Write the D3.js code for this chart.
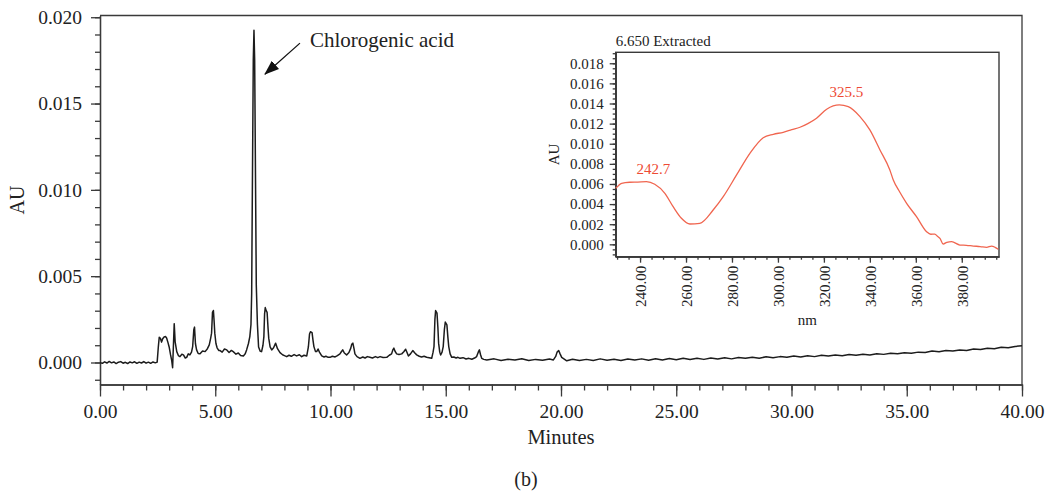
<!DOCTYPE html>
<html>
<head>
<meta charset="utf-8">
<script src="https://cdn.jsdelivr.net/npm/d3@7"></script>
<style>
body { margin: 0; background: #fff; }
svg { display: block; font-family: "Liberation Serif", "Times New Roman", serif; }
</style>
</head>
<body>
<svg id="chart" width="1050" height="497"></svg>
<script>
'use strict'

// chromatogram, [minutes, AU]
const chromatogram = [
	[0.00, 0.00000], [0.10, -0.00005], [0.20, 0.00004], [0.30, -0.00003], [0.40, 0.00006],
	[0.50, -0.00002], [0.60, 0.00003], [0.70, -0.00006], [0.80, 0.00002], [0.90, 0.00005],
	[1.00, -0.00004], [1.10, 0.00001], [1.20, -0.00006], [1.30, 0.00003], [1.40, -0.00002],
	[1.50, 0.00004], [1.60, -0.00005], [1.70, 0.00002], [1.80, -0.00003], [1.90, 0.00005],
	[2.00, -0.00004], [2.10, 0.00002], [2.20, -0.00005], [2.30, 0.00003], [2.40, -0.00002],
	[2.48, 0.00002], [2.53, 0.00090], [2.57, 0.00146], [2.62, 0.00140], [2.67, 0.00118],
	[2.72, 0.00138], [2.78, 0.00148], [2.84, 0.00150], [2.89, 0.00142], [2.95, 0.00115],
	[3.00, 0.00090], [3.06, 0.00045], [3.11, 0.00012], [3.15, -0.00030], [3.18, 0.00080],
	[3.22, 0.00225], [3.26, 0.00120], [3.33, 0.00063], [3.40, 0.00040], [3.47, 0.00034],
	[3.55, 0.00048], [3.62, 0.00044], [3.70, 0.00026], [3.76, 0.00030], [3.83, 0.00050],
	[3.90, 0.00044], [3.97, 0.00060], [4.02, 0.00092], [4.07, 0.00190], [4.10, 0.00205],
	[4.14, 0.00110], [4.19, 0.00073], [4.26, 0.00052], [4.34, 0.00050], [4.45, 0.00066],
	[4.56, 0.00063], [4.66, 0.00080], [4.74, 0.00102], [4.80, 0.00140], [4.84, 0.00170],
	[4.88, 0.00290], [4.92, 0.00301], [4.95, 0.00240], [4.98, 0.00170], [5.03, 0.00110],
	[5.08, 0.00085], [5.15, 0.00070], [5.21, 0.00069], [5.30, 0.00060], [5.40, 0.00078],
	[5.50, 0.00073], [5.60, 0.00058], [5.70, 0.00070], [5.78, 0.00063], [5.90, 0.00048],
	[6.00, 0.00055], [6.10, 0.00040], [6.22, 0.00038], [6.30, 0.00050], [6.36, 0.00073],
	[6.44, 0.00110], [6.50, 0.00150], [6.55, 0.00220], [6.58, 0.00400], [6.61, 0.01000],
	[6.65, 0.01750], [6.68, 0.01925], [6.71, 0.01750], [6.75, 0.01000], [6.78, 0.00450],
	[6.83, 0.00220], [6.88, 0.00090], [6.95, 0.00065], [7.01, 0.00063], [7.07, 0.00100],
	[7.11, 0.00150], [7.14, 0.00280], [7.17, 0.00318], [7.21, 0.00300], [7.25, 0.00290],
	[7.29, 0.00200], [7.32, 0.00141], [7.38, 0.00090], [7.45, 0.00073], [7.53, 0.00085],
	[7.62, 0.00112], [7.70, 0.00080], [7.81, 0.00057], [7.92, 0.00045], [8.00, 0.00040],
	[8.10, 0.00034], [8.20, 0.00042], [8.30, 0.00036], [8.42, 0.00046], [8.53, 0.00038],
	[8.65, 0.00045], [8.75, 0.00034], [8.85, 0.00042], [8.97, 0.00038], [9.04, 0.00090],
	[9.09, 0.00165], [9.13, 0.00178], [9.20, 0.00173], [9.24, 0.00130], [9.28, 0.00092],
	[9.35, 0.00063], [9.40, 0.00063], [9.46, 0.00078], [9.52, 0.00060], [9.62, 0.00038],
	[9.72, 0.00032], [9.80, 0.00036], [9.90, 0.00030], [9.98, 0.00030], [10.08, 0.00036],
	[10.20, 0.00032], [10.30, 0.00040], [10.41, 0.00050], [10.47, 0.00062], [10.53, 0.00073],
	[10.60, 0.00055], [10.70, 0.00044], [10.80, 0.00058], [10.88, 0.00083], [10.92, 0.00105],
	[10.97, 0.00112], [11.02, 0.00080], [11.06, 0.00050], [11.15, 0.00034], [11.28, 0.00024],
	[11.40, 0.00032], [11.50, 0.00026], [11.60, 0.00034], [11.71, 0.00030], [11.82, 0.00026],
	[11.95, 0.00034], [12.05, 0.00028], [12.15, 0.00034], [12.28, 0.00029], [12.44, 0.00030],
	[12.55, 0.00042], [12.65, 0.00050], [12.71, 0.00075], [12.75, 0.00083], [12.80, 0.00065],
	[12.87, 0.00050], [12.97, 0.00046], [13.09, 0.00050], [13.18, 0.00062], [13.26, 0.00077],
	[13.32, 0.00058], [13.38, 0.00038], [13.47, 0.00050], [13.57, 0.00069], [13.65, 0.00056],
	[13.74, 0.00044], [13.85, 0.00036], [13.95, 0.00032], [14.06, 0.00036], [14.17, 0.00030],
	[14.28, 0.00028], [14.39, 0.00024], [14.45, 0.00060], [14.49, 0.00092], [14.53, 0.00250],
	[14.56, 0.00301], [14.62, 0.00286], [14.66, 0.00200], [14.69, 0.00112], [14.74, 0.00060],
	[14.78, 0.00044], [14.84, 0.00060], [14.89, 0.00092], [14.94, 0.00190], [14.98, 0.00234],
	[15.05, 0.00218], [15.09, 0.00150], [15.13, 0.00092], [15.19, 0.00050], [15.26, 0.00030],
	[15.35, 0.00032], [15.45, 0.00026], [15.53, 0.00030], [15.62, 0.00024], [15.75, 0.00028],
	[15.88, 0.00020], [16.00, 0.00024], [16.13, 0.00019], [16.25, 0.00026], [16.34, 0.00034],
	[16.41, 0.00060], [16.46, 0.00073], [16.51, 0.00045], [16.56, 0.00024], [16.65, 0.00018],
	[16.78, 0.00015], [17.10, 0.00021], [17.40, 0.00012], [17.70, 0.00019], [18.00, 0.00014],
	[18.30, 0.00022], [18.60, 0.00011], [18.90, 0.00018], [19.20, 0.00013], [19.50, 0.00020],
	[19.67, 0.00015], [19.77, 0.00035], [19.83, 0.00060], [19.90, 0.00069], [19.96, 0.00050],
	[20.03, 0.00030], [20.25, 0.00010], [20.50, 0.00019], [20.80, 0.00011], [21.10, 0.00018],
	[21.40, 0.00012], [21.70, 0.00021], [22.00, 0.00013], [22.30, 0.00019], [22.60, 0.00012],
	[22.90, 0.00020], [23.20, 0.00014], [23.50, 0.00021], [23.80, 0.00013], [24.10, 0.00022],
	[24.40, 0.00015], [24.70, 0.00023], [25.00, 0.00016], [25.30, 0.00024], [25.60, 0.00017],
	[25.90, 0.00025], [26.20, 0.00018], [26.50, 0.00026], [26.80, 0.00020], [27.10, 0.00028],
	[27.40, 0.00021], [27.70, 0.00029], [28.00, 0.00024], [28.30, 0.00031], [28.60, 0.00025],
	[28.90, 0.00033], [29.20, 0.00028], [29.50, 0.00034], [29.80, 0.00030], [30.10, 0.00037],
	[30.40, 0.00032], [30.70, 0.00039], [31.00, 0.00034], [31.30, 0.00042], [31.60, 0.00037],
	[31.90, 0.00043], [32.20, 0.00039], [32.50, 0.00046], [32.80, 0.00042], [33.10, 0.00048],
	[33.40, 0.00044], [33.70, 0.00051], [34.00, 0.00047], [34.30, 0.00054], [34.60, 0.00050],
	[34.90, 0.00057], [35.20, 0.00054], [35.50, 0.00060], [35.80, 0.00058], [36.10, 0.00066],
	[36.40, 0.00062], [36.70, 0.00069], [37.00, 0.00066], [37.30, 0.00073], [37.60, 0.00070],
	[37.90, 0.00078], [38.20, 0.00075], [38.50, 0.00082], [38.80, 0.00080], [39.10, 0.00088],
	[39.40, 0.00085], [39.70, 0.00093], [40.00, 0.00097]
]

// UV spectrum extracted at 6.650 min, [nm, AU]
const spectrum = [
	[229.4, 0.00557], [232.0, 0.00607], [235.5, 0.00617], [239.0, 0.00619], [242.8, 0.00623],
	[246.4, 0.00597], [250.8, 0.00507], [254.4, 0.00374], [258.0, 0.00259], [261.7, 0.00202],
	[266.0, 0.00209], [271.8, 0.00341], [276.2, 0.00474], [282.0, 0.00690], [287.8, 0.00905],
	[293.6, 0.01060], [298.0, 0.01094], [302.3, 0.01114], [306.0, 0.01140], [309.6, 0.01164],
	[313.0, 0.01200], [316.8, 0.01254], [321.2, 0.01343], [326.7, 0.01386], [330.6, 0.01369],
	[335.7, 0.01270], [340.0, 0.01137], [344.4, 0.00938], [348.7, 0.00739], [350.2, 0.00640],
	[353.0, 0.00520], [356.0, 0.00408], [360.3, 0.00275], [364.7, 0.00125], [366.5, 0.00100],
	[368.3, 0.00102], [369.4, 0.00080], [370.5, 0.00060], [371.9, 0.00003], [373.5, 0.00020],
	[375.6, 0.00026], [379.2, -0.00007], [382.0, -0.00010], [385.0, -0.00017], [388.0, -0.00022],
	[390.8, -0.00030], [393.0, -0.00017], [394.5, -0.00030], [395.9, -0.00050]
]

const mainXTicks = [0, 5, 10, 15, 20, 25, 30, 35, 40]
const mainYTicks = [0, 0.005, 0.010, 0.015, 0.020]
const insetXTicks = [240, 260, 280, 300, 320, 340, 360, 380]
const insetYTicks = [0, 0.002, 0.004, 0.006, 0.008, 0.010, 0.012, 0.014, 0.016, 0.018]

const peakName = "Chlorogenic acid"
const peakTime = 6.68
const spectrumPeaks = [
	{nm: 242.7, au: 0.0062, label: "242.7"},
	{nm: 326.7, au: 0.0139, label: "325.5"}
]

const axisColor = "#3a3a3a"
const traceColor = "#1c1c1c"
const red = "#f0654f"

let svg = d3.select("#chart")

// ---------- main chromatogram ----------
let x = d3.scaleLinear().domain([0, 40]).range([100, 1022])
let y = d3.scaleLinear().domain([-0.001275, 0.0201]).range([384.5, 15.5])

let fmt2 = d3.format(".2f")
let fmt3 = d3.format(".3f")

function styleAxis(g, size){
	g.selectAll("path, line").attr("stroke", axisColor).attr("stroke-width", 1.3)
	g.selectAll("text").attr("fill", "#222").style("font-size", size + "px")
		.style("font-family", '"Liberation Serif", serif')
}

// minor ticks first
svg.append("g")
	.attr("transform", "translate(0,384.5)")
	.call(d3.axisBottom(x).tickValues(d3.range(0, 41, 1)).tickSize(6).tickSizeOuter(0).tickFormat(""))
	.call(g => styleAxis(g, 19))
svg.append("g")
	.attr("transform", "translate(0,384.5)")
	.call(d3.axisBottom(x).tickValues(mainXTicks).tickSize(12).tickSizeOuter(0).tickPadding(8).tickFormat(fmt2))
	.call(g => styleAxis(g, 19.5))

svg.append("g")
	.attr("transform", "translate(100,0)")
	.call(d3.axisLeft(y).tickValues(d3.range(-1, 21, 1).map(d => d / 1000)).tickSize(5).tickSizeOuter(0).tickFormat(""))
	.call(g => styleAxis(g, 19))
svg.append("g")
	.attr("transform", "translate(100,0)")
	.call(d3.axisLeft(y).tickValues(mainYTicks).tickSize(9).tickSizeOuter(0).tickPadding(9).tickFormat(fmt3))
	.call(g => styleAxis(g, 19.5))

// frame top and right
svg.append("path")
	.attr("d", `M${x(0)},${y.range()[1]}H${x(40)}V${y.range()[0]}`)
	.attr("fill", "none").attr("stroke", axisColor).attr("stroke-width", 1.3)

let line = d3.line().x(d => x(d[0])).y(d => y(d[1]))
svg.append("path")
	.datum(chromatogram)
	.attr("d", line)
	.attr("fill", "none")
	.attr("stroke", traceColor)
	.attr("stroke-width", 1.5)
	.attr("stroke-linejoin", "round")

svg.append("text")
	.attr("transform", `translate(24,${(y.range()[0] + y.range()[1]) / 2}) rotate(-90)`)
	.attr("text-anchor", "middle")
	.style("font-size", "20px").attr("fill", "#222")
	.text("AU")

svg.append("text")
	.attr("x", (x.range()[0] + x.range()[1]) / 2)
	.attr("y", 444)
	.attr("text-anchor", "middle")
	.style("font-size", "20.5px").attr("fill", "#222")
	.text("Minutes")

svg.append("text")
	.attr("x", 526)
	.attr("y", 486)
	.attr("text-anchor", "middle")
	.style("font-size", "20px").attr("fill", "#222")
	.text("(b)")

// annotation arrow
svg.append("defs").append("marker")
	.attr("id", "arrowhead")
	.attr("markerUnits", "userSpaceOnUse")
	.attr("markerWidth", 15).attr("markerHeight", 11)
	.attr("refX", 14).attr("refY", 5.5)
	.attr("orient", "auto")
	.append("path")
	.attr("d", "M0,0L15,5.5L0,11Z")
	.attr("fill", "#111")

let px = x(peakTime)
svg.append("line")
	.attr("x1", px + 46).attr("y1", y(0.0185))
	.attr("x2", px + 11).attr("y2", y(0.0167))
	.attr("stroke", "#111").attr("stroke-width", 1.3)
	.attr("marker-end", "url(#arrowhead)")

svg.append("text")
	.attr("x", px + 56)
	.attr("y", 47)
	.style("font-size", "21px").attr("fill", "#222")
	.text(peakName)

// ---------- inset spectrum ----------
let xi = d3.scaleLinear().domain([229.4, 396.2]).range([615.7, 999])
let yi = d3.scaleLinear().domain([-0.00123, 0.01909]).range([256.7, 52.3])

let inset = svg.append("g")

inset.append("rect")
	.attr("x", xi.range()[0]).attr("y", yi.range()[1])
	.attr("width", xi.range()[1] - xi.range()[0])
	.attr("height", yi.range()[0] - yi.range()[1])
	.attr("fill", "#fff").attr("stroke", axisColor).attr("stroke-width", 1.4)

inset.append("g")
	.attr("transform", `translate(0,${yi.range()[0]})`)
	.call(d3.axisBottom(xi).tickValues(d3.range(230, 396, 5)).tickSize(3).tickSizeOuter(0).tickFormat(""))
	.call(g => styleAxis(g, 15))
inset.append("g")
	.attr("transform", `translate(0,${yi.range()[0]})`)
	.call(d3.axisBottom(xi).tickValues(insetXTicks).tickSize(6).tickSizeOuter(0).tickFormat(fmt2))
	.call(g => styleAxis(g, 15))
	.call(g => g.selectAll("text")
		.attr("transform", "rotate(-90)")
		.attr("text-anchor", "end")
		.attr("x", -9).attr("y", 0).attr("dy", "0.35em"))

inset.append("g")
	.attr("transform", `translate(${xi.range()[0]},0)`)
	.call(d3.axisLeft(yi).tickValues(d3.range(-2, 39, 1).map(d => d / 2000)).tickSize(3).tickSizeOuter(0).tickFormat(""))
	.call(g => styleAxis(g, 15))
inset.append("g")
	.attr("transform", `translate(${xi.range()[0]},0)`)
	.call(d3.axisLeft(yi).tickValues(insetYTicks).tickSize(6).tickSizeOuter(0).tickPadding(6).tickFormat(fmt3))
	.call(g => styleAxis(g, 15))

let sline = d3.line().x(d => xi(d[0])).y(d => yi(d[1])).curve(d3.curveMonotoneX)
inset.append("path")
	.datum(spectrum)
	.attr("d", sline)
	.attr("fill", "none")
	.attr("stroke", red)
	.attr("stroke-width", 1.3)

inset.selectAll(".peaklab")
	.data(spectrumPeaks)
	.enter()
	.append("text")
	.attr("class", "peaklab")
	.attr("x", d => xi(d.nm) + 7)
	.attr("y", d => yi(d.au) - 8)
	.attr("text-anchor", "middle")
	.style("font-size", "15px")
	.attr("fill", "#ee4a34")
	.text(d => d.label)

inset.append("text")
	.attr("x", xi.range()[0])
	.attr("y", 46)
	.style("font-size", "15px").attr("fill", "#222")
	.text("6.650 Extracted")

inset.append("text")
	.attr("transform", `translate(559,${(yi.range()[0] + yi.range()[1]) / 2}) rotate(-90)`)
	.attr("text-anchor", "middle")
	.style("font-size", "15px").attr("fill", "#222")
	.text("AU")

inset.append("text")
	.attr("x", (xi.range()[0] + xi.range()[1]) / 2)
	.attr("y", 325)
	.attr("text-anchor", "middle")
	.style("font-size", "15px").attr("fill", "#222")
	.text("nm")
</script>
</body>
</html>
